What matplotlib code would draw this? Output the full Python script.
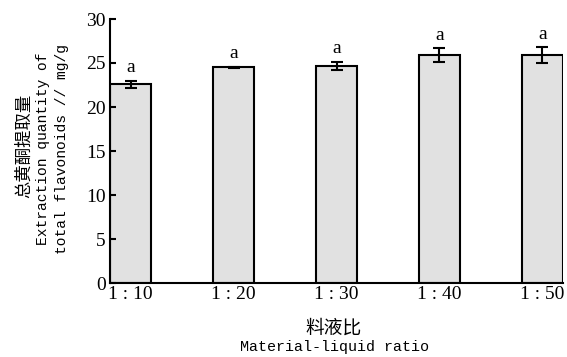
import matplotlib
matplotlib.use('Agg')
import matplotlib.pyplot as plt
import numpy as np

ratios = ['1 : 10', '1 : 20', '1 : 30', '1 : 40', '1 : 50']
extraction = [22.6, 24.5, 24.7, 25.9, 25.9]
errors = [0.4, 0.1, 0.45, 0.8, 0.9]
letters = ['a', 'a', 'a', 'a', 'a']

plt.rcParams['font.family'] = ['Liberation Serif', 'Noto Sans CJK SC']
mono = ['Liberation Mono', 'Noto Sans CJK SC']
cjk = ['Noto Sans CJK SC']

W, H = 567, 357
fig = plt.figure(figsize=(W / 100, H / 100), dpi=100)
ax = fig.add_axes([110 / W, 1 - 283 / H, 453 / W, 264 / H])

x = np.arange(len(ratios))
ax.bar(x, extraction, width=0.4, color='#e1e1e1', edgecolor='black', linewidth=1.5,
       yerr=errors, error_kw=dict(ecolor='black', elinewidth=1.5, capsize=4.5, capthick=1.5))

for xi, v, e, t in zip(x, extraction, errors, letters):
    ax.text(xi, v + e + 0.5, t, ha='center', va='bottom', fontsize=14)

ax.set_xlim(-0.2, 4.2)
ax.set_ylim(0, 30)
ax.set_yticks(range(0, 31, 5))
ax.set_xticks(x)
ax.set_xticklabels(ratios)
ax.tick_params(axis='y', direction='in', length=4, width=1.5, labelsize=14, pad=3)
ax.tick_params(axis='x', length=0, labelsize=14, pad=2)

for s in ['top', 'right']:
    ax.spines[s].set_visible(False)
for s in ['left', 'bottom']:
    ax.spines[s].set_linewidth(1.5)

# y axis title, three lines
fig.text(24 / W, 1 - 146 / H, '总黄酮提取量', rotation=90, ha='center', va='center',
         fontsize=12.5, family=cjk)
fig.text(43 / W, 1 - 149 / H, 'Extraction quantity of', rotation=90, ha='center',
         va='center', fontsize=10.5, family=mono)
fig.text(62 / W, 1 - 149 / H, 'total flavonoids // mg/g', rotation=90, ha='center',
         va='center', fontsize=10.5, family=mono)

# x axis title
fig.text(334 / W, 1 - 328 / H, '料液比', ha='center', va='center', fontsize=13.5, family=cjk)
fig.text(334 / W, 1 - 347 / H, 'Material-liquid ratio', ha='center', va='center',
         fontsize=10.8, family=mono)

fig.savefig('out.png', dpi=100)
